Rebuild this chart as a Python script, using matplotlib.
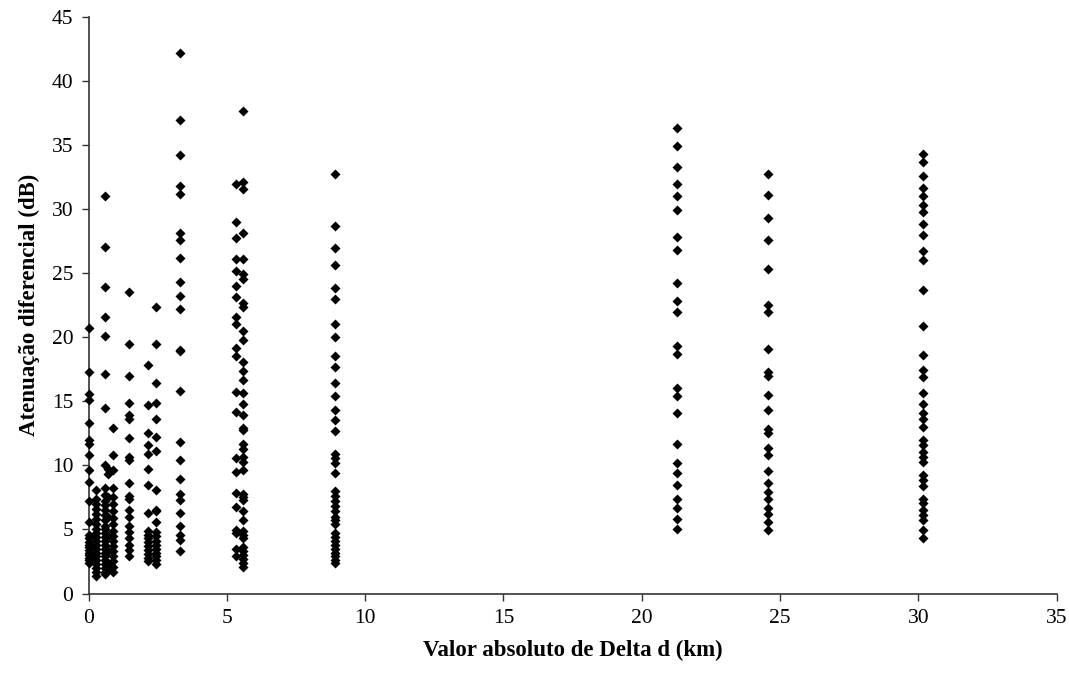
import matplotlib

matplotlib.use("Agg")

import matplotlib.pyplot as plt

# column positions (km) and attenuation values (dB)
x_cols = [0.02, 0.26, 0.60, 0.72, 0.90, 1.48, 2.14, 2.44, 3.31, 5.32, 5.60, 8.91, 21.27, 24.58, 30.16]

y_cols = [
    [20.7, 17.3, 15.6, 15.1, 13.3, 12.0, 11.7, 10.8, 9.6, 8.7, 7.2, 5.6,
     4.6, 4.3, 4.0, 3.8, 3.6, 3.4, 3.2, 3.0, 2.8, 2.6, 2.4],
    [8.1, 7.4, 7.0, 6.6, 6.2, 5.8, 5.4, 5.0, 4.7, 4.4, 4.1, 3.8, 3.5, 3.2,
     2.9, 2.6, 2.3, 2.0, 1.7, 1.4],
    [31.0, 27.0, 23.9, 21.6, 20.1, 17.1, 14.5, 10.0, 8.2, 7.7, 7.2, 6.9, 6.5,
     6.1, 5.7, 5.3, 5.0, 4.7, 4.4, 4.1, 3.8, 3.5, 3.2, 2.9, 2.6, 2.3, 2.0, 1.7, 1.5],
    [9.7, 9.3, 7.5, 6.0, 4.5, 3.3, 2.4, 1.9],
    [12.9, 10.8, 9.6, 8.2, 7.5, 7.0, 6.4, 5.9, 5.4, 4.9, 4.5, 4.1, 3.7, 3.3,
     2.9, 2.5, 2.1, 1.7],
    [23.5, 19.45, 16.95, 14.9, 13.9, 13.65, 12.1, 10.65, 10.4, 8.6, 7.6, 7.4,
     6.5, 6.0, 5.3, 4.8, 4.3, 3.8, 3.4, 2.9],
    [17.8, 14.7, 12.5, 11.6, 10.9, 9.75, 8.45, 6.25, 4.9, 4.6, 4.3, 4.0, 3.7,
     3.4, 3.1, 2.8, 2.5],
    [22.35, 19.45, 16.4, 14.9, 13.65, 12.2, 11.1, 8.1, 6.55, 6.4, 5.6, 4.8,
     4.5, 4.1, 3.8, 3.5, 3.2, 2.9, 2.6, 2.3],
    [42.2, 36.95, 34.25, 31.8, 31.2, 28.15, 27.55, 26.2, 24.3, 23.2, 22.2,
     19.0, 18.9, 15.8, 11.8, 10.4, 8.9, 7.8, 7.3, 6.3, 5.3, 4.55, 4.2, 3.35],
    [31.95, 29.0, 27.7, 26.1, 25.2, 24.0, 23.1, 21.6, 21.0, 19.15, 18.5, 15.7,
     14.2, 10.6, 9.5, 7.85, 6.75, 4.95, 4.7, 3.5, 2.9],
    [37.65, 32.1, 31.55, 28.1, 26.1, 24.95, 24.55, 22.65, 22.35, 20.45, 19.75,
     18.1, 17.35, 16.65, 15.65, 14.75, 13.9, 12.9, 12.75, 11.65, 11.3, 10.65,
     10.25, 9.6, 7.8, 7.5, 7.3, 6.4, 5.7, 4.9, 4.6, 4.3, 3.6, 3.3, 3.0, 2.7,
     2.4, 2.1],
    [32.7, 28.65, 26.95, 25.6, 23.85, 22.95, 21.05, 20.05, 18.55, 17.7, 16.45,
     15.4, 14.35, 13.5, 12.65, 10.9, 10.55, 10.15, 9.4, 8.0, 7.6, 7.2, 6.8,
     6.4, 6.0, 5.7, 5.4, 4.7, 4.4, 4.1, 3.8, 3.5, 3.2, 2.9, 2.6, 2.35],
    [36.35, 34.9, 33.3, 31.95, 31.05, 29.95, 27.8, 26.8, 24.2, 22.8, 22.0,
     19.3, 18.7, 16.05, 15.4, 14.05, 11.65, 10.2, 9.4, 8.45, 7.4, 6.7, 5.8, 5.0],
    [32.7, 31.1, 29.3, 27.6, 25.3, 22.5, 21.95, 19.05, 17.25, 17.0, 15.5, 14.35,
     12.8, 12.55, 11.35, 10.8, 9.55, 8.6, 7.95, 7.35, 6.65, 6.2, 5.6, 4.95],
    [34.3, 33.65, 32.6, 31.6, 31.05, 30.3, 29.75, 28.85, 28.0, 26.75, 26.0,
     23.65, 20.85, 18.6, 17.45, 16.9, 15.65, 14.8, 14.05, 13.65, 13.0, 11.95,
     11.55, 11.05, 10.65, 10.25, 9.25, 8.85, 8.4, 7.4, 7.05, 6.55, 6.1, 5.7,
     4.95, 4.3],
]

x_ticks = [0, 5, 10, 15, 20, 25, 30, 35]
y_ticks = [0, 5, 10, 15, 20, 25, 30, 35, 40, 45]

plt.rcParams["font.family"] = ["Liberation Serif", "DejaVu Serif"]

fig = plt.figure(figsize=(10.69, 6.83), dpi=100)
ax = fig.add_axes([0.0828, 0.131, 0.9056, 0.8445])

xs = []
ys = []
for xc, vals in zip(x_cols, y_cols):
    xs.extend([xc] * len(vals))
    ys.extend(vals)

ax.scatter(xs, ys, marker="D", s=26, color="black", linewidths=0, zorder=3, clip_on=False)

ax.set_xlim(0, 35)
ax.set_ylim(0, 45)
ax.set_xticks(x_ticks)
ax.set_yticks(y_ticks)
ax.tick_params(direction="out", length=5, width=1.0, labelsize=15.5, color="#333333")
ax.tick_params(axis="x", pad=6)
ax.tick_params(axis="y", pad=6)

for side in ["top", "right"]:
    ax.spines[side].set_visible(False)
for side in ["left", "bottom"]:
    ax.spines[side].set_linewidth(1.2)
    ax.spines[side].set_color("#333333")

ax.set_xlabel("Valor absoluto de Delta d (km)", fontsize=16.5, fontweight="bold", labelpad=9)
ax.set_ylabel("Atenuação diferencial (dB)", fontsize=16.5, fontweight="bold", labelpad=8)

fig.savefig("out.png", dpi=100)
